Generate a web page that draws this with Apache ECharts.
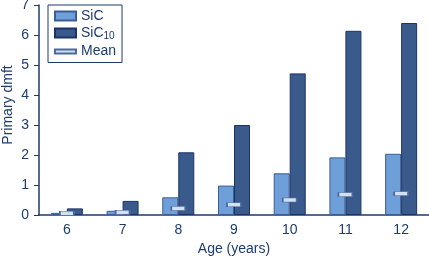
<!DOCTYPE html>
<html><head><meta charset="utf-8">
<script src="https://cdn.jsdelivr.net/npm/echarts@6/dist/echarts.min.js"></script>
<style>html,body{margin:0;padding:0;background:#fff}#c{width:429px;height:258px}</style>
</head><body><div id="c"></div>
<script>
const categories = ['6','7','8','9','10','11','12'];
const sic = [0.07, 0.14, 0.59, 0.98, 1.39, 1.92, 2.04];
const sic10 = [0.22, 0.47, 2.09, 3.0, 4.72, 6.14, 6.4];
const mean = [0.06, 0.09, 0.22, 0.34, 0.5, 0.68, 0.71];
const yTitle = 'Primary dmft';
const xTitle = 'Age (years)';

const txt = '#1c3c6e';
const navy = '#1f3a6a';
const font = 'Liberation Sans, Arial, sans-serif';
const chart = echarts.init(document.getElementById('c'), null, {renderer:'canvas'});
chart.setOption({
  animation:false,
  textStyle:{fontFamily:font},
  legend:{
    left:48, top:5, orient:'vertical', itemWidth:21, itemHeight:9, itemGap:3,
    padding:[4,6,4,6], borderColor:navy, borderWidth:1,
    textStyle:{color:txt, fontSize:14, rich:{a:{fontSize:14,color:txt}, s:{fontSize:10,color:txt,verticalAlign:'bottom',padding:[7,0,0,0]}}},
    formatter: n => n==='SiC10' ? '{a|SiC}{s|10}' : n,
    data:[{name:'SiC', icon:'rect'},{name:'SiC10', icon:'rect'},{name:'Mean', icon:'path://M0,0 L21,0 L21,4 L0,4 Z'}]
  },
  graphic:[{type:'text', x:8, y:105, rotation:Math.PI/2,
    style:{text:yTitle, fill:txt, font:'14px '+font, textAlign:'center', textVerticalAlign:'middle'}}],
  grid:{left:39, right:0, top:5, bottom:43, outerBoundsMode:'none', containLabel:false},
  xAxis:{
    type:'category', data:categories,
    axisLine:{lineStyle:{color:navy, width:1.5}},
    axisTick:{show:false},
    axisLabel:{color:txt, fontSize:14, margin:8},
    name:xTitle, nameLocation:'middle', nameGap:24,
    nameTextStyle:{color:txt, fontSize:14}
  },
  yAxis:{
    type:'value', min:0, max:7, interval:1,
    axisLine:{show:true, lineStyle:{color:navy, width:1.5}},
    axisTick:{show:true, length:5, lineStyle:{color:navy}},
    axisLabel:{color:txt, fontSize:14, margin:10},
    splitLine:{show:false}
  },
  series:[
    {name:'SiC', type:'bar', data:sic, barWidth:16, barGap:'0%',
     itemStyle:{color:'#6f9fd8', borderColor:'#3a5d96', borderWidth:1}},
    {name:'SiC10', type:'bar', data:sic10, barWidth:16,
     itemStyle:{color:'#3b5a8c', borderColor:'#1c3366', borderWidth:1}},
    {name:'Mean', type:'scatter', data:mean, symbol:'rect', symbolSize:[14,4], z:5,
     itemStyle:{color:'#d3e0f2', borderColor:'#4a6a9e', borderWidth:1, opacity:1}}
  ]
});
</script></body></html>
